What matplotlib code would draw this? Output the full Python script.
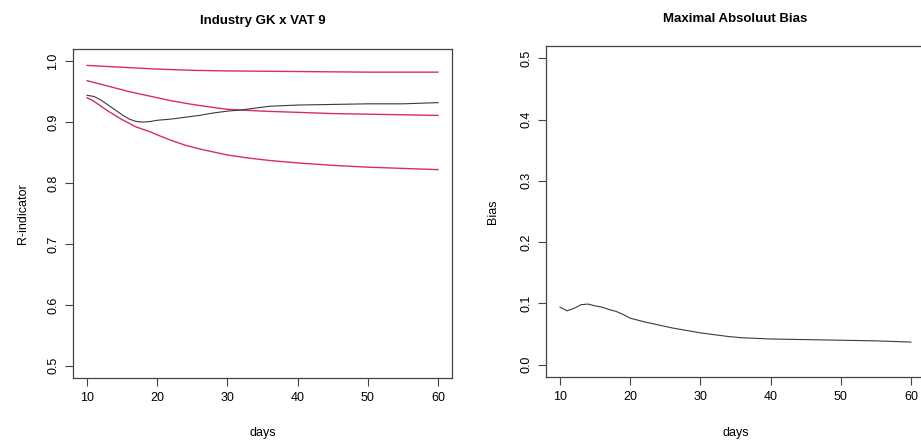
import matplotlib
matplotlib.use("Agg")
from matplotlib import pyplot as plt

plt.rcParams['font.family'] = ['Liberation Sans', 'DejaVu Sans']

# R-indicator curves (left panel)
days_top = [10, 15, 20, 25, 30, 40, 50, 60]
r_top = [0.993, 0.990, 0.987, 0.985, 0.984, 0.983, 0.982, 0.982]

days_mid = [10, 12, 14, 16, 18, 20, 22, 25, 28, 30, 35, 40, 45, 50, 55, 60]
r_mid = [0.968, 0.962, 0.956, 0.950, 0.945, 0.940, 0.935, 0.929, 0.924, 0.921,
         0.918, 0.916, 0.914, 0.913, 0.912, 0.911]

days_low = [10, 11, 12, 13, 14, 15, 16, 17, 18, 19, 20, 22, 24, 26, 28, 30, 33,
            36, 40, 45, 50, 55, 60]
r_low = [0.940, 0.934, 0.926, 0.918, 0.911, 0.904, 0.898, 0.892, 0.888, 0.884,
         0.879, 0.870, 0.862, 0.856, 0.851, 0.846, 0.841, 0.837, 0.833, 0.829,
         0.826, 0.824, 0.822]

days_r = [10, 11, 12, 13, 14, 15, 16, 17, 18, 19, 20, 22, 24, 26, 28, 30, 32,
          34, 36, 38, 40, 45, 50, 55, 60]
r_ind = [0.944, 0.942, 0.936, 0.928, 0.920, 0.912, 0.905, 0.901, 0.900, 0.901,
         0.903, 0.905, 0.908, 0.911, 0.915, 0.918, 0.920, 0.923, 0.926, 0.927,
         0.928, 0.929, 0.930, 0.930, 0.932]

# maximal absolute bias (right panel)
days_b = [10, 11, 12, 13, 14, 15, 16, 17, 18, 19, 20, 22, 24, 26, 28, 30, 32,
          34, 36, 38, 40, 45, 50, 55, 60]
bias = [0.094, 0.088, 0.092, 0.098, 0.099, 0.096, 0.094, 0.090, 0.087, 0.082,
        0.076, 0.070, 0.065, 0.060, 0.056, 0.052, 0.049, 0.046, 0.044, 0.043,
        0.042, 0.041, 0.040, 0.039, 0.037]

x_ticks = [10, 20, 30, 40, 50, 60]
red = '#dc2c62'
dark = '#3a3a3a'

fig = plt.figure(figsize=(9.21, 4.45), dpi=100)
ax1 = fig.add_axes([0.0793, 0.1506, 0.4115, 0.7393])
ax2 = fig.add_axes([0.5928, 0.1528, 0.4115, 0.7438])


def r_style(ax, ylo, yhi, yticks, fmt):
    ax.set_xlim(8, 62)
    pad = (yhi - ylo) * 0.04
    ax.set_ylim(ylo - pad, yhi + pad)
    ax.set_xticks(x_ticks)
    ax.set_xticklabels([str(t) for t in x_ticks], fontsize=9)
    ax.set_yticks(yticks)
    ax.set_yticklabels([fmt % t for t in yticks], fontsize=9, rotation=90, va='center')
    ax.tick_params(direction='out', length=6, width=0.8, color='#444444', pad=4)
    for s in ax.spines.values():
        s.set_color('#444444')
        s.set_linewidth(0.9)
    ax.set_xlabel('days', fontsize=9, labelpad=17)


ax1.plot(days_top, r_top, color=red, lw=1.0)
ax1.plot(days_mid, r_mid, color=red, lw=1.0)
ax1.plot(days_low, r_low, color=red, lw=1.0)
ax1.plot(days_r, r_ind, color=dark, lw=0.8)
r_style(ax1, 0.5, 1.0, [0.5, 0.6, 0.7, 0.8, 0.9, 1.0], '%.1f')
ax1.set_ylabel('R-indicator', fontsize=9, labelpad=13)
ax1.set_title('Industry GK x VAT 9', fontsize=9.5, fontweight='bold', pad=18)

ax2.plot(days_b, bias, color=dark, lw=0.8)
r_style(ax2, 0.0, 0.5, [0.0, 0.1, 0.2, 0.3, 0.4, 0.5], '%.1f')
ax2.set_ylabel('Bias', fontsize=9, labelpad=15)
ax2.set_title('Maximal Absoluut Bias', fontsize=9.5, fontweight='bold', pad=17)

fig.savefig('out.png', dpi=100)
